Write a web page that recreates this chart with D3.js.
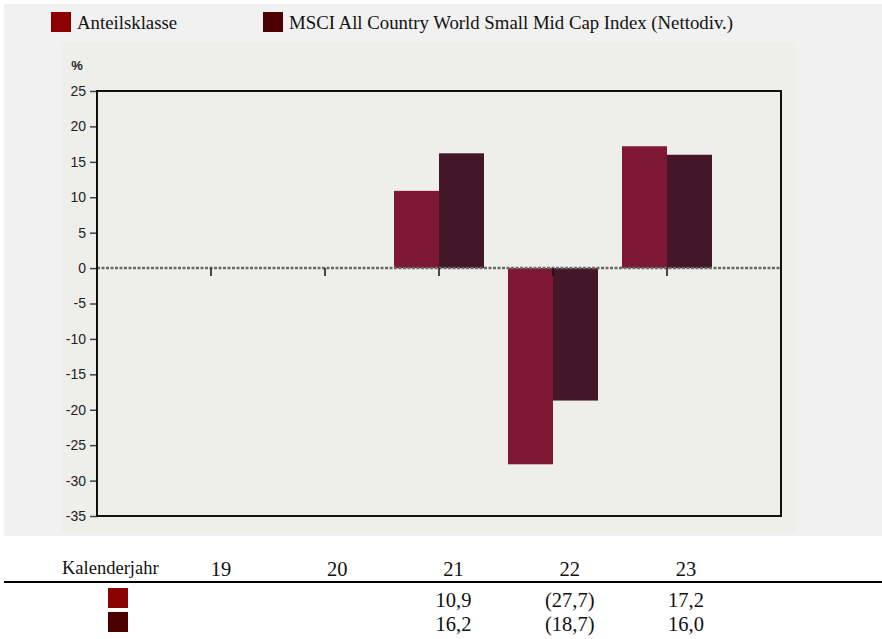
<!DOCTYPE html>
<html lang="de">
<head>
<meta charset="UTF-8">
<title>Kalenderjahr</title>
<script src="https://d3js.org/d3.v7.min.js"></script>
<style>
  body { margin: 0; background: #fff; }
</style>
</head>
<body>
<svg width="882" height="639"></svg>
<script>
    // data
    const years = ["19", "20", "21", "22", "23"];
    const seriesNames = ["Anteilsklasse", "MSCI All Country World Small Mid Cap Index (Nettodiv.)"];
    const fund = [null, null, 10.9, -27.7, 17.2];
    const index = [null, null, 16.2, -18.7, 16.0];
    const yTicks = [25, 20, 15, 10, 5, 0, -5, -10, -15, -20, -25, -30, -35];

    const barColors = ["#7e1832", "#431628"];
    const keyColors = ["#8b0000", "#4d0000"];

    const svg = d3.select("svg");

    // backgrounds
    svg.append("rect").attr("x", 4).attr("y", 4).attr("width", 878).attr("height", 532).attr("fill", "#f1f1f1");
    svg.append("rect").attr("x", 61).attr("y", 42).attr("width", 735).attr("height", 490).attr("fill", "#eeeeea");

    const plotL = 97, plotR = 781, plotT = 91, plotB = 516;

    const x = d3.scalePoint().domain(years).range([plotL, plotR]).padding(1);
    const y = d3.scaleLinear().domain([-35, 25]).range([plotB, plotT]);
    const barW = 45;

    const serif = "Liberation Serif, Times New Roman, serif";

    // legend
    const legendX = [51, 263];
    seriesNames.forEach(function(name, i) {
        svg.append("rect").attr("x", legendX[i]).attr("y", 12).attr("width", 20).attr("height", 20).attr("fill", keyColors[i]);
        svg.append("text").attr("x", legendX[i] + 26).attr("y", 29)
            .attr("font-family", serif).attr("font-size", 18.8)
            .attr("fill", "#111").text(name);
    });

    // y axis
    const yAxis = d3.axisLeft(y).tickValues(yTicks).tickSize(7).tickPadding(4).tickFormat(function(d) { return String(d); });
    const gy = svg.append("g").attr("transform", "translate(" + plotL + ",0)").call(yAxis);
    gy.select(".domain").remove();
    gy.selectAll("line").attr("stroke", "#444").attr("stroke-width", 1.5);
    gy.selectAll("text").attr("font-family", "Liberation Sans, Arial, sans-serif").attr("font-size", 14).attr("fill", "#222");

    svg.append("text").attr("x", 77).attr("y", 70).attr("text-anchor", "middle")
        .attr("font-family", "Liberation Sans, Arial, sans-serif").attr("font-size", 13).attr("font-weight", "bold")
        .attr("fill", "#222").text("%");

    // bars
    [fund, index].forEach(function(vals, s) {
        svg.append("g").selectAll("rect")
            .data(years.map(function(yr, i) { return { yr: yr, v: vals[i] }; }).filter(function(d) { return d.v != null; }))
            .join("rect")
            .attr("x", function(d) { return x(d.yr) - barW + s * barW; })
            .attr("y", function(d) { return y(Math.max(0, d.v)); })
            .attr("width", barW)
            .attr("height", function(d) { return Math.abs(y(d.v) - y(0)); })
            .attr("fill", barColors[s]);
    });

    // zero line
    svg.append("line").attr("x1", plotL).attr("x2", plotR).attr("y1", y(0)).attr("y2", y(0))
        .attr("stroke", "#6a6a6a").attr("stroke-width", 2.5).attr("stroke-dasharray", "3,1.5");

    // x ticks
    svg.append("g").selectAll("line").data(years).join("line")
        .attr("x1", function(d) { return x(d); }).attr("x2", function(d) { return x(d); })
        .attr("y1", y(0)).attr("y2", y(0) + 8)
        .attr("stroke", "#111").attr("stroke-width", 1.5);

    // frame
    svg.append("rect").attr("x", plotL).attr("y", plotT).attr("width", plotR - plotL).attr("height", plotB - plotT)
        .attr("fill", "none").attr("stroke", "#111").attr("stroke-width", 2);

    // table below
    const tx = d3.scalePoint().domain(years).range([221, 686]);
    const fmt = function(v) {
        if (v == null) return "";
        const s = Math.abs(v).toFixed(1).replace(".", ",");
        return v < 0 ? "(" + s + ")" : s;
    };

    svg.append("text").attr("x", 62).attr("y", 574).attr("font-family", serif).attr("font-size", 18.5)
        .attr("fill", "#111").text("Kalenderjahr");
    svg.append("g").selectAll("text").data(years).join("text")
        .attr("x", function(d) { return tx(d); }).attr("y", 576).attr("text-anchor", "middle")
        .attr("font-family", serif).attr("font-size", 20.5).attr("fill", "#111").text(function(d) { return d; });

    svg.append("line").attr("x1", 4).attr("x2", 882).attr("y1", 582).attr("y2", 582)
        .attr("stroke", "#000").attr("stroke-width", 2);

    const rowY = [607, 631];
    [fund, index].forEach(function(vals, s) {
        svg.append("rect").attr("x", 108).attr("y", rowY[s] - 19).attr("width", 20).attr("height", 20).attr("fill", keyColors[s]);
        svg.append("g").selectAll("text").data(years).join("text")
            .attr("x", function(d) { return tx(d); }).attr("y", rowY[s]).attr("text-anchor", "middle")
            .attr("font-family", serif).attr("font-size", 20.5).attr("fill", "#111")
            .text(function(d, i) { return fmt(vals[i]); });
    });
</script>
</body>
</html>
